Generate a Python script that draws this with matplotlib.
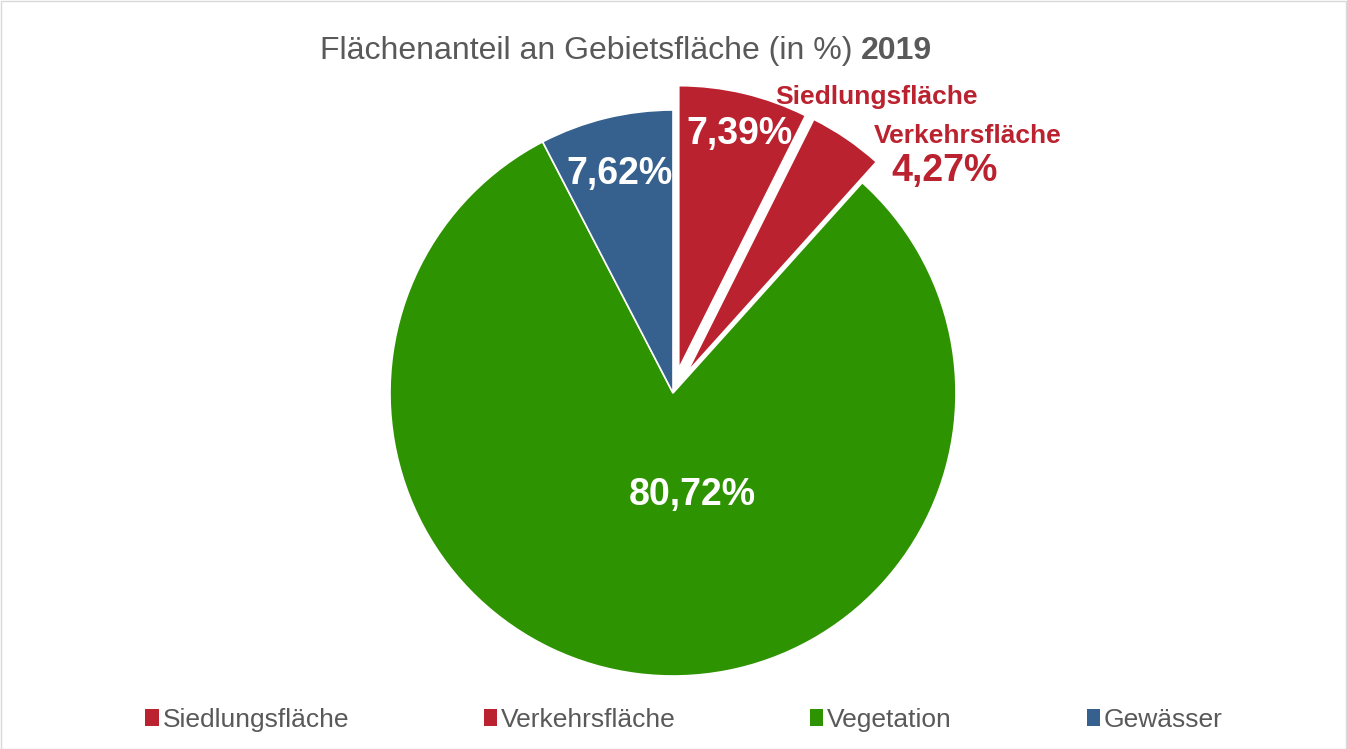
import matplotlib
matplotlib.use("Agg")
import matplotlib.pyplot as plt
from matplotlib.patches import Rectangle

categories = ["Siedlungsfläche", "Verkehrsfläche", "Vegetation", "Gewässer"]
values = [7.39, 4.27, 80.72, 7.62]
value_labels = ["7,39%", "4,27%", "80,72%", "7,62%"]
colors = ["#BA222F", "#BA222F", "#2E9300", "#36618F"]
explode_px = [25, 25, 0, 0]
title_main = "Flächenanteil an Gebietsfläche (in %) "
title_year = "2019"

plt.rcParams['font.family'] = ['Liberation Sans', 'DejaVu Sans']

W, H = 1347, 749
fig = plt.figure(figsize=(W / 100, H / 100), dpi=100)
ax = fig.add_axes([0, 0, 1, 1])

wedges, _ = ax.pie(values, colors=colors, explode=explode_px, startangle=90,
                   counterclock=False, radius=283, center=(673, H - 393),
                   wedgeprops=dict(edgecolor="white", linewidth=1.2))
ax.set_xlim(0, W)
ax.set_ylim(0, H)
ax.set_aspect('auto')
ax.axis('off')

# value labels
ax.text(739, H - 134, value_labels[0], color="white", fontsize=27, fontweight="bold",
        ha="center", va="center")
ax.text(620, H - 174, value_labels[3], color="white", fontsize=27, fontweight="bold",
        ha="center", va="center")
ax.text(692, H - 495, value_labels[2], color="white", fontsize=27, fontweight="bold",
        ha="center", va="center")
ax.text(876, H - 97, categories[0], color=colors[0], fontsize=19, fontweight="bold",
        ha="center", va="center")
ax.text(968, H - 136, categories[1], color=colors[1], fontsize=19, fontweight="bold",
        ha="center", va="center")
ax.text(945, H - 171, value_labels[1], color=colors[1], fontsize=27, fontweight="bold",
        ha="center", va="center")

# title
t1 = ax.text(320, H - 51, title_main, color="#595959", fontsize=23, ha="left", va="center")
fig.canvas.draw()
bb = t1.get_window_extent(renderer=fig.canvas.get_renderer())
ax.text(bb.x1, H - 51, title_year, color="#595959", fontsize=23, fontweight="bold",
        ha="left", va="center")

# legend
leg = fig.legend(wedges, categories, loc="center", bbox_to_anchor=(684 / W, 1 - 720 / H),
                 ncol=4, frameon=False, fontsize=19, labelcolor="#595959",
                 handlelength=0.5, handleheight=0.6, handletextpad=0.15,
                 columnspacing=5.1)
for h in leg.legend_handles:
    h.set_edgecolor("none")

# chart border
fig.patches.append(Rectangle((0.5 / W, 0.5 / H), 1 - 1.5 / W, 1 - 1.5 / H,
                             transform=fig.transFigure, fill=False,
                             edgecolor="#D9D9D9", linewidth=1))

fig.savefig("out.png", dpi=100)
